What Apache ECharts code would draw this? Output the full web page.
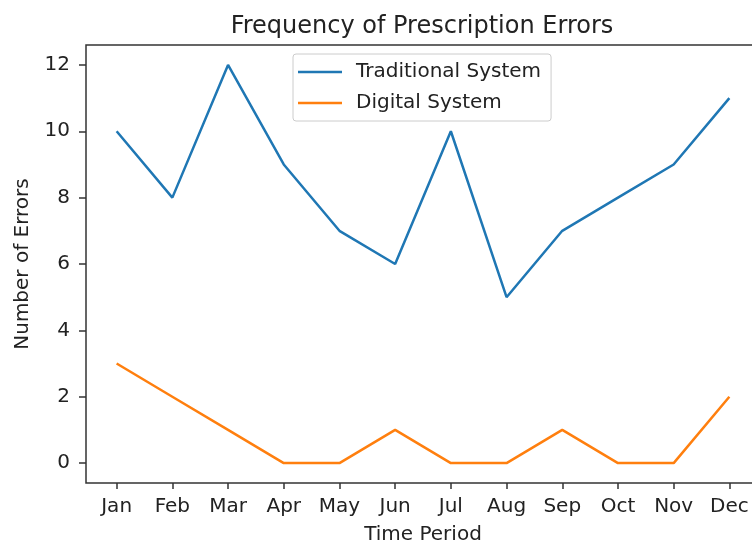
<!DOCTYPE html>
<html>
<head>
<meta charset="utf-8">
<script src="https://cdn.jsdelivr.net/npm/echarts@6/dist/echarts.min.js"></script>
<style>html,body{margin:0;padding:0;background:#fff;overflow:hidden;width:752px;height:547px}#c{width:760px;height:547px}</style>
</head>
<body>
<div id="c"></div>
<script>
const months = ['Jan','Feb','Mar','Apr','May','Jun','Jul','Aug','Sep','Oct','Nov','Dec'];
const traditional = [10, 8, 12, 9, 7, 6, 10, 5, 7, 8, 9, 11];
const digital = [3, 2, 1, 0, 0, 1, 0, 0, 1, 0, 0, 2];
const yTicks = [0, 2, 4, 6, 8, 10, 12];

const idx = months.map((m, i) => i);
const font = 'DejaVu Sans';
const chart = echarts.init(document.getElementById('c'), null, {renderer: 'canvas'});
chart.setOption({
  animation: false,
  backgroundColor: '#fff',
  title: {
    text: 'Frequency of Prescription Errors',
    left: 417, top: 10, textAlign: 'center',
    textStyle: {fontFamily: font, fontSize: 24, fontWeight: 'normal', color: '#222'}
  },
  legend: {
    orient: 'vertical',
    left: 293, top: 54,
    padding: [8, 10, 8, 5],
    itemGap: 11,
    itemWidth: 44, itemHeight: 14,
    icon: 'path://M0,5.75 L44,5.75 L44,8.25 L0,8.25 Z',
    backgroundColor: '#fff',
    borderColor: '#ccc', borderWidth: 1, borderRadius: 3,
    textStyle: {fontFamily: font, fontSize: 20, color: '#222', padding: [0, 0, 0, 9]},
    data: ['Traditional System', 'Digital System']
  },
  grid: {
    left: 86, top: 45, bottom: 64, right: 0,
    outerBoundsMode: 'none', containLabel: false,
    show: true, borderColor: '#333', borderWidth: 1.5, backgroundColor: 'transparent'
  },
  xAxis: {
    type: 'value', min: -0.55, max: 11.55,
    name: 'Time Period', nameLocation: 'middle', nameGap: 42,
    nameTextStyle: {fontFamily: font, fontSize: 20, color: '#222'},
    axisLine: {show: false, onZero: false},
    splitLine: {show: false},
    axisTick: {show: true, customValues: idx, length: 6, lineStyle: {color: '#333', width: 1.5}},
    axisLabel: {customValues: idx, margin: 14, fontFamily: font, fontSize: 20, color: '#222',
      formatter: v => months[Math.round(v)]}
  },
  yAxis: {
    type: 'value', min: -0.6, max: 12.6,
    name: 'Number of Errors', nameLocation: 'middle', nameGap: 53,
    nameTextStyle: {fontFamily: font, fontSize: 20, color: '#222'},
    axisLine: {show: false, onZero: false},
    splitLine: {show: false},
    axisTick: {show: true, customValues: yTicks, length: 7, lineStyle: {color: '#333', width: 1.5}},
    axisLabel: {customValues: yTicks, margin: 16, fontFamily: font, fontSize: 20, color: '#222'}
  },
  series: [
    {name: 'Traditional System', type: 'line', data: idx.map(i => [i, traditional[i]]),
      showSymbol: false, symbol: 'none', color: '#1f77b4', lineStyle: {width: 2.5, color: '#1f77b4'}},
    {name: 'Digital System', type: 'line', data: idx.map(i => [i, digital[i]]),
      showSymbol: false, symbol: 'none', color: '#ff7f0e', lineStyle: {width: 2.5, color: '#ff7f0e'}}
  ]
});
</script>
</body>
</html>
